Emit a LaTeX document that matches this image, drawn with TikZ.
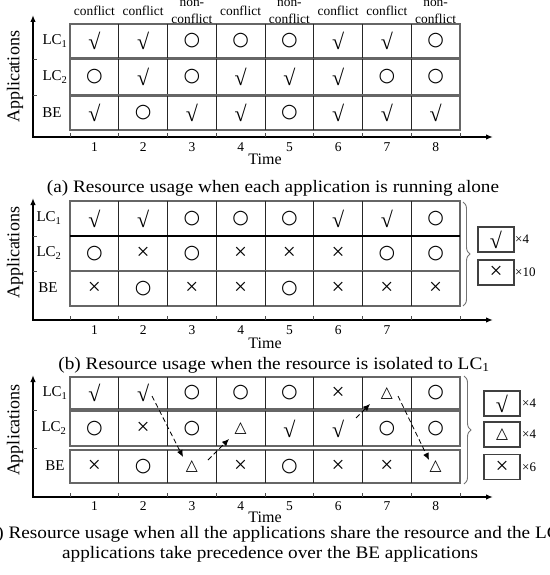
\documentclass[tikz,border=0pt]{standalone}
\usepackage{fontspec}
\setmainfont{Liberation Serif}
\newfontfamily\symfont{DejaVu Sans}
\usetikzlibrary{arrows.meta,decorations.pathreplacing}
\newcommand\symC{{\fontsize{22}{22}\selectfont √}}
\newcommand\symO{{\symfont\fontsize{19}{19}\selectfont ○}}
\newcommand\symX{{\fontsize{23}{23}\selectfont ×}}
\newcommand\symT{{\symfont\fontsize{15.5}{15.5}\selectfont △}}
\newcommand\symOl{\raisebox{-2pt}{\symO}}
% row: #1 name prefix, #2 top, #3 bottom, #4 symbols
\newcommand\approw[4]{%
  \draw[rowbox] (70,#2) rectangle (460,#3);
  \foreach \k in {1,...,7} \draw[celldiv] ({70+48.75*\k},#2) -- ({70+48.75*\k},#3);
  \foreach \s [count=\i] in {#4}
    \node[cellsym] (#1-\i) at ({70+48.75*(\i-0.5)},{(#2+#3)/2}) {\s};
}
\begin{document}
\begin{tikzpicture}[x=1pt,y=-1pt,
  rowbox/.style={draw=black!60,line width=1.3pt},
  celldiv/.style={draw=black!85,line width=0.9pt},
  cellsym/.style={inner sep=0pt},
  axisline/.style={line width=1.6pt,{Latex[length=7pt,width=5.5pt]}-{Latex[length=7pt,width=5.5pt]}},
  tickmark/.style={draw=black!70,line width=0.7pt},
  ticklab/.style={font=\fontsize{13.5}{14}\selectfont,inner sep=0pt},
  timelab/.style={font=\fontsize{16}{17}\selectfont,inner sep=0pt},
  caplab/.style={font=\fontsize{17.5}{18}\selectfont,inner sep=0pt,align=center,xscale=1.1},
  rowlab/.style={font=\fontsize{15}{16}\selectfont,inner sep=0pt},
  applab/.style={font=\fontsize{18}{19}\selectfont,inner sep=0pt,rotate=90},
  toplab/.style={font=\fontsize{13.4}{16.5}\selectfont,inner sep=0pt,align=center,anchor=south},
  legbox/.style={draw=black!75,line width=1.2pt,minimum width=36pt,minimum height=25pt,inner sep=0pt},
  leglab/.style={font=\fontsize{13}{14}\selectfont,inner sep=0pt,anchor=west},
  bracestyle/.style={draw=black!55,line width=0.9pt,decorate,decoration={brace,amplitude=7pt}},
  darr/.style={line width=0.8pt,dash pattern=on 5pt off 3pt,-{Latex[length=7pt,width=6pt]}}
]
\useasboundingbox (0,0) rectangle (549,575);

% ---------------- panel (a) ----------------
\node[toplab] (a-h1) at (94.4,16) {conflict};
\node[toplab] (a-h2) at (143.1,16) {conflict};
\node[toplab] (a-h3) at (191.9,23.5) {non-\\conflict};
\node[toplab] (a-h4) at (240.6,16) {conflict};
\node[toplab] (a-h5) at (289.4,23.5) {non-\\conflict};
\node[toplab] (a-h6) at (338.1,16) {conflict};
\node[toplab] (a-h7) at (386.9,16) {conflict};
\node[toplab] (a-h8) at (435.6,23.5) {non-\\conflict};

\approw{a1}{24}{58}{\symC,\symC,\symO,\symO,\symO,\symC,\symC,\symO}
\approw{a2}{59.5}{94.5}{\symO,\symC,\symO,\symC,\symC,\symC,\symOl,\symO}
\approw{a3}{96}{130}{\symC,\symO,\symC,\symC,\symO,\symC,\symC,\symC}

\coordinate (aY) at (33,15);
\coordinate (aO) at (33,137);
\coordinate (aX) at (493,137);
\draw[axisline] (aY) -- (aO) -- (aX);
\foreach \k in {0,...,8} \draw[tickmark] ({70+48.75*\k},137) -- ++(0,-4);
\draw[tickmark] (33,59) -- ++(4,0);
\draw[tickmark] (33,95) -- ++(4,0);
\foreach \k in {1,...,8} \node[ticklab] (a-t\k) at ({70+48.75*(\k-0.5)},147) {\k};
\node[timelab] (a-time) at (265,159) {Time};
\node[applab] (a-app) at (15,77) {Applications};
\node[rowlab] (a-r1) at (55,41) {LC\textsubscript{1}};
\node[rowlab] (a-r2) at (55,77) {LC\textsubscript{2}};
\node[rowlab] (a-r3) at (52,113) {BE};
\node[caplab] (a-cap) at (273,188) {(a) Resource usage when each application is running alone};

% ---------------- panel (b) ----------------
\approw{b1}{201}{236}{\symC,\symC,\symO,\symO,\symO,\symC,\symC,\symO}
\approw{b2}{236}{271}{\symO,\symX,\symO,\symX,\symX,\symX,\symOl,\symO}
\approw{b3}{271}{306}{\symX,\symO,\symX,\symX,\symO,\symX,\symX,\symX}
\draw[line width=1.6pt] (70,236) -- (460,236);

\coordinate (bY) at (33,198);
\coordinate (bO) at (33,320);
\coordinate (bX) at (493,320);
\draw[axisline] (bY) -- (bO) -- (bX);
\foreach \k in {0,...,8} \draw[tickmark] ({70+48.75*\k},320) -- ++(0,-4);
\draw[tickmark] (33,236) -- ++(4,0);
\draw[tickmark] (33,271) -- ++(4,0);
\foreach \k in {1,...,7} \node[ticklab] (b-t\k) at ({70+48.75*(\k-0.5)},330) {\k};
\node[timelab] (b-time) at (265,343) {Time};
\node[applab] (b-app) at (15,253) {Applications};
\node[rowlab] (b-r1) at (49,218) {LC\textsubscript{1}};
\node[rowlab] (b-r2) at (49,253) {LC\textsubscript{2}};
\node[rowlab] (b-r3) at (48,288) {BE};
\node[caplab] (b-cap) at (274,365) {(b) Resource usage when the resource is isolated to LC\textsubscript{1}};

\draw[bracestyle] (463,202) -- (463,306);
\node[legbox] (b-l1) at (496,239.5) {\symC};
\node[legbox] (b-l2) at (496,272.5) {\symX};
\node[leglab] (b-n1) at (515,239.5) {×4};
\node[leglab] (b-n2) at (515,272.5) {×10};

% ---------------- panel (c) ----------------
\approw{c1}{377}{409}{\symC,\symC,\symO,\symO,\symO,\symX,\symT,\symO}
\approw{c2}{411}{446}{\symO,\symX,\symO,\symT,\symC,\symC,\symO,\symO}
\approw{c3}{450}{483}{\symX,\symO,\symT,\symX,\symO,\symX,\symX,\symT}

\coordinate (cY) at (33,375);
\coordinate (cO) at (33,497);
\coordinate (cX) at (493,497);
\draw[axisline] (cY) -- (cO) -- (cX);
\foreach \k in {0,...,8} \draw[tickmark] ({70+48.75*\k},497) -- ++(0,-4);
\draw[tickmark] (33,410) -- ++(4,0);
\draw[tickmark] (33,448) -- ++(4,0);
\foreach \k in {1,...,8} \node[ticklab] (c-t\k) at ({70+48.75*(\k-0.5)},506) {\k};
\node[timelab] (c-time) at (265,517) {Time};
\node[applab] (c-app) at (15,430) {Applications};
\node[rowlab] (c-r1) at (55,393) {LC\textsubscript{1}};
\node[rowlab] (c-r2) at (54,428) {LC\textsubscript{2}};
\node[rowlab] (c-r3) at (55,466) {BE};
\node[caplab] (c-cap1) at (271,534) {(c) Resource usage when all the applications share the resource and the LC};
\node[caplab] (c-cap2) at (270,554) {applications take precedence over the BE applications};

\draw[bracestyle] (464,376) -- (464,484);
\node[legbox] (c-l1) at (502,403.5) {\symC};
\node[legbox] (c-l2) at (502,434.5) {\symT};
\node[legbox] (c-l3) at (502,467) {\symX};
\node[leglab] (c-n1) at (522,403.5) {×4};
\node[leglab] (c-n2) at (522,434.5) {×4};
\node[leglab] (c-n3) at (522,467) {×6};

\coordinate (p1s) at (152,396);
\coordinate (p1e) at (183,457);
\coordinate (p2s) at (208,460);
\coordinate (p2e) at (229,439);
\coordinate (p3s) at (356,418);
\coordinate (p3e) at (370,404);
\coordinate (p4s) at (398,396);
\coordinate (p4e) at (429,460);
\draw[darr] (p1s) -- (p1e);
\draw[darr] (p2s) -- (p2e);
\draw[darr] (p3s) -- (p3e);
\draw[darr] (p4s) -- (p4e);
\end{tikzpicture}
\end{document}
